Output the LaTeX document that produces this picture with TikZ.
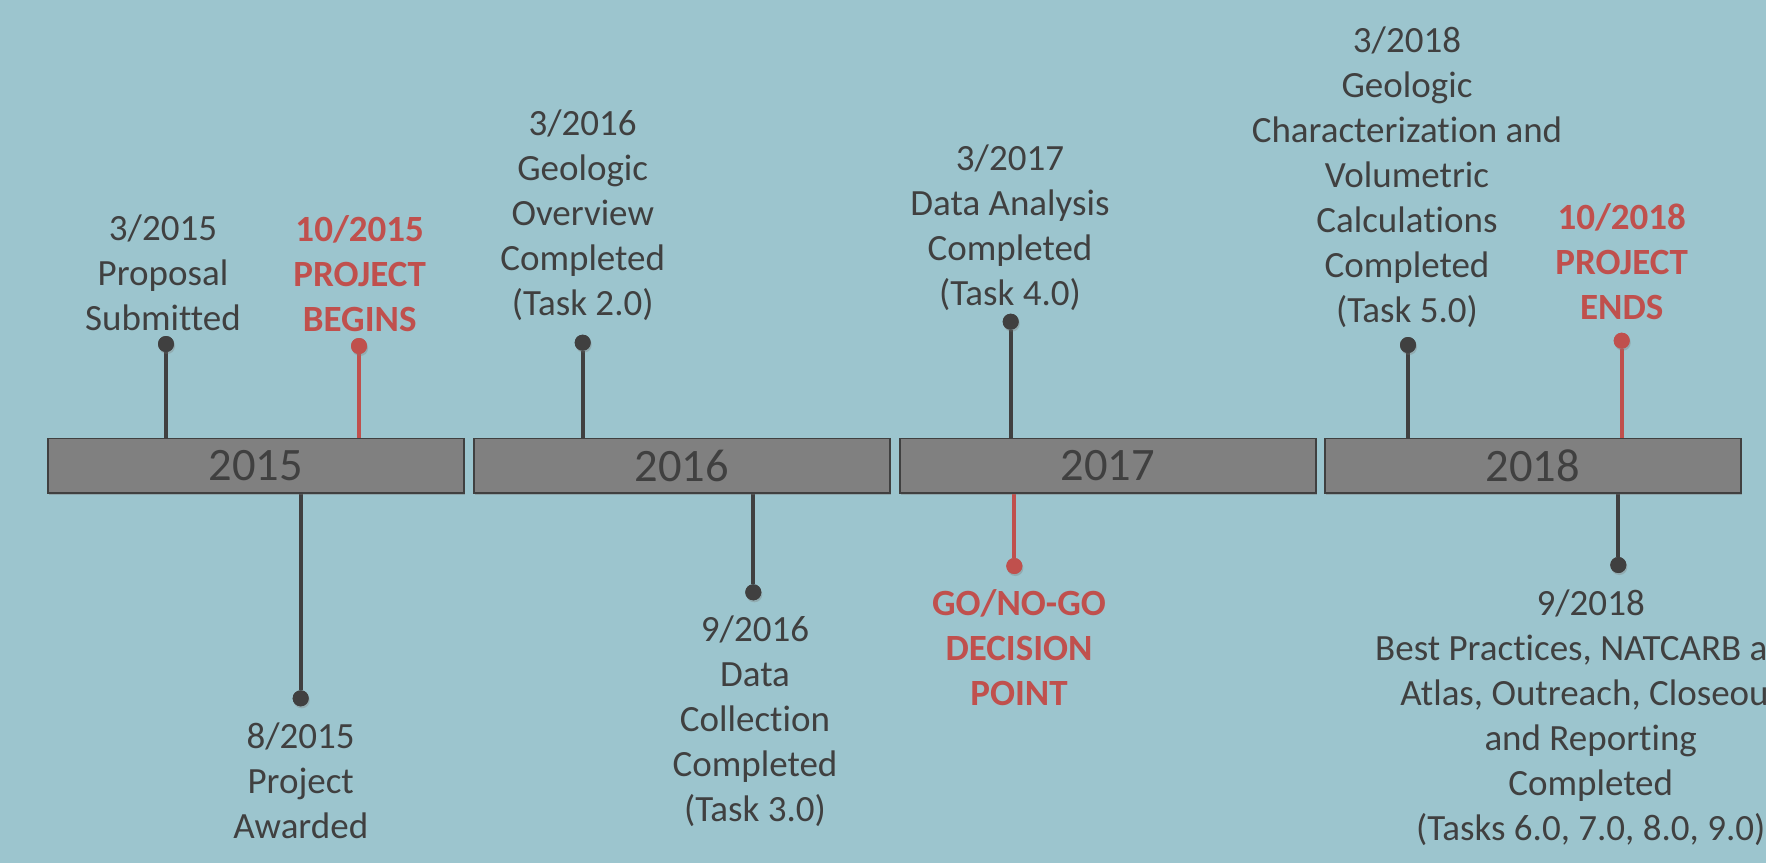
\documentclass[tikz,border=0pt]{standalone}
\usepackage{fontspec}
\setmainfont{Carlito}[Ligatures={NoCommon}]
\usetikzlibrary{shadows}
\definecolor{bg}{RGB}{156,197,206}
\definecolor{ink}{RGB}{64,64,64}
\definecolor{accent}{RGB}{192,80,77}
\definecolor{boxfill}{RGB}{128,128,128}
\begin{document}
\begin{tikzpicture}[x=1pt,y=-1pt,
  yearbox/.style={draw=ink, line width=1.5pt, fill=boxfill, minimum width=416pt,
    minimum height=54.5pt, inner sep=0pt, anchor=north west, text=ink,
    font=\fontsize{46.5}{50}\selectfont,
    drop shadow={shadow xshift=1.5pt, shadow yshift=-2.5pt, opacity=0.25}},
  lbl/.style={align=center, inner sep=0pt, text=ink, anchor=base,
    font=\fontsize{37}{45}\selectfont},
  redlbl/.style={lbl, text=accent, font=\fontsize{37}{45}\selectfont\bfseries},
  dot/.style={circle, fill=ink, minimum size=16pt, inner sep=0pt,
    drop shadow={shadow xshift=1pt, shadow yshift=-2pt, opacity=0.2}},
  reddot/.style={dot, fill=accent},
  stem/.style={draw=ink, line width=3.8pt},
  redstem/.style={draw=accent, line width=3.8pt}
]
\clip (0,0) rectangle (1766,863);
\fill[bg] (0,0) rectangle (1766,863);

% dots (positions)
\node[dot]    (d1)  at (166,344) {};
\node[reddot] (d2)  at (359,346) {};
\node[dot]    (d3)  at (300.7,698.3) {};
\node[dot]    (d4)  at (582.7,342.7) {};
\node[dot]    (d5)  at (753.3,592.3) {};
\node[dot]    (d6)  at (1010.7,321.7) {};
\node[reddot] (d7)  at (1014.3,566) {};
\node[dot]    (d8)  at (1408,345) {};
\node[reddot] (d9)  at (1621.7,340.7) {};
\node[dot]    (d10) at (1618.3,565) {};

% year boxes
\node[yearbox] (b2015) at (47,437.5) {2015};
\node[yearbox] (b2016) at (473,437.5) {2016};
\node[yearbox] (b2017) at (899,437.5) {2017};
\node[yearbox] (b2018) at (1324,437.5) {2018};

% stems
\draw[stem]    (d1)  -- (d1 |- b2015.north);
\draw[redstem] (d2)  -- (d2 |- b2015.north);
\draw[stem]    (d3)  -- (d3 |- b2015.south);
\draw[stem]    (d4)  -- (d4 |- b2016.north);
\draw[stem]    (d5)  -- (d5 |- b2016.south);
\draw[stem]    (d6)  -- (d6 |- b2017.north);
\draw[redstem] (d7)  -- (d7 |- b2017.south);
\draw[stem]    (d8)  -- (d8 |- b2018.north);
\draw[redstem] (d9)  -- (d9 |- b2018.north);
\draw[stem]    (d10) -- (d10 |- b2018.south);

% redraw boxes on top of stem ends
\node[yearbox] at (47,437.5) {2015};
\node[yearbox] at (473,437.5) {2016};
\node[yearbox] at (899,437.5) {2017};
\node[yearbox] at (1324,437.5) {2018};

% redraw dots on top of stems
\node[dot]    at (d1)  {};
\node[reddot] at (d2)  {};
\node[dot]    at (d3)  {};
\node[dot]    at (d4)  {};
\node[dot]    at (d5)  {};
\node[dot]    at (d6)  {};
\node[reddot] at (d7)  {};
\node[dot]    at (d8)  {};
\node[reddot] at (d9)  {};
\node[dot]    at (d10) {};

% labels (anchor base = baseline of last line)
\node[lbl]    (t1)  at (163,330)    {3/2015\\Proposal\\Submitted};
\node[redlbl] (t2)  at (359.7,331.7) {10/2015\\PROJECT\\BEGINS};
\node[lbl]    (t3)  at (300.7,838.3) {8/2015\\Project\\Awarded};
\node[lbl]    (t4)  at (582.7,315) {3/2016\\Geologic\\Overview\\Completed\\(Task 2.0)};
\node[lbl]    (t5)  at (755,821.7)  {9/2016\\Data\\Collection\\Completed\\(Task 3.0)};
\node[lbl]    (t6)  at (1010,305) {3/2017\\Data Analysis\\Completed\\(Task 4.0)};
\node[redlbl] (t7)  at (1019,705) {GO/NO-GO\\DECISION\\POINT};
\node[lbl]    (t8)  at (1407,322)    {3/2018\\Geologic\\Characterization and\\Volumetric\\Calculations\\Completed\\(Task 5.0)};
\node[redlbl] (t9)  at (1621.7,319) {10/2018\\PROJECT\\ENDS};
\node[lbl]    (t10) at (1590.7,840) {9/2018\\Best Practices, NATCARB and\\Atlas, Outreach, Closeout\\and Reporting\\Completed\\(Tasks 6.0, 7.0, 8.0, 9.0)};
\end{tikzpicture}
\end{document}
